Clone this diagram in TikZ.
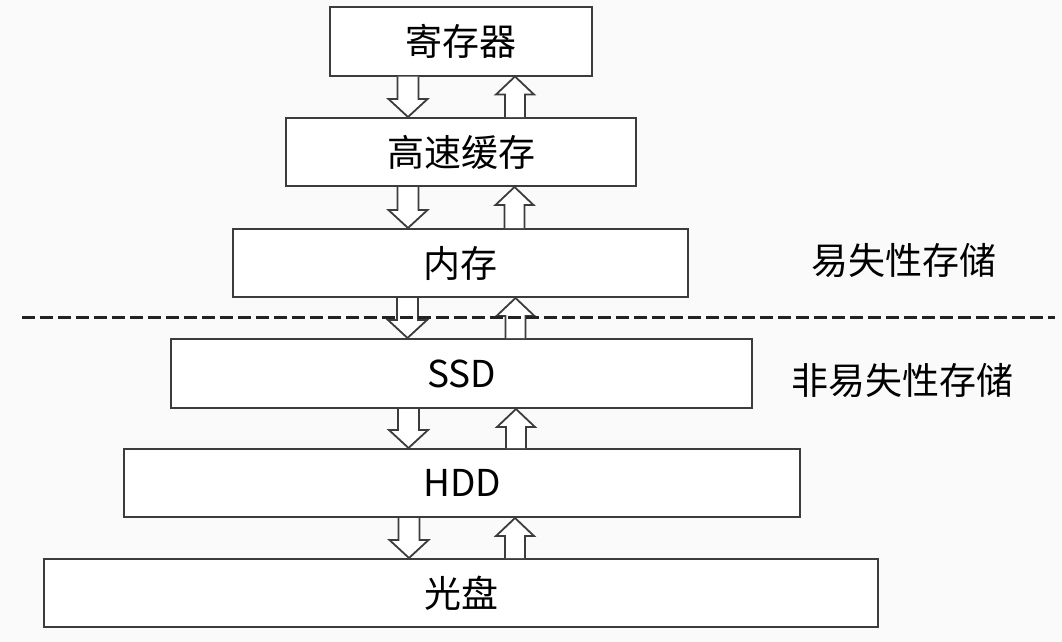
\documentclass[tikz,border=0pt]{standalone}
\usepackage{fontspec}
\usepackage{tikz}
\usetikzlibrary{calc,positioning}
\setmainfont{Noto Sans CJK SC}
\definecolor{memBg}{RGB}{250,250,250}
\definecolor{memLine}{RGB}{60,60,60}
\definecolor{memDash}{RGB}{34,34,34}

% hollow block arrows between two levels
\newcommand{\downflow}[2]{%
  \path ($(#1.south)+(-53,0)$) coordinate (s) (s |- #2.north) coordinate (e);
  \draw[flowarrow] ($(s)+(-10.5,0)$) -- ($(e)+(-10.5,-18)$) -- ($(e)+(-19.5,-18)$) -- (e)
    -- ($(e)+(19.5,-18)$) -- ($(e)+(10.5,-18)$) -- ($(s)+(10.5,0)$);}
\newcommand{\upflow}[2]{%
  \path ($(#2.north)+(54,0)$) coordinate (s) (s |- #1.south) coordinate (e);
  \draw[flowarrow] ($(s)+(-10,0)$) -- ($(e)+(-10,18)$) -- ($(e)+(-19,18)$) -- (e)
    -- ($(e)+(19,18)$) -- ($(e)+(10,18)$) -- ($(s)+(10,0)$);}

\begin{document}
\begin{tikzpicture}[x=1pt,y=-1pt,
    level/.style={draw=memLine, line width=2pt, fill=white, inner sep=0pt,
      minimum height=68pt, font=\fontsize{37}{40}\selectfont},
    side/.style={font=\fontsize{37}{40}\selectfont},
    flowarrow/.style={draw=memLine, line width=1.8pt, fill=white, line join=miter}]
    \fill[memBg] (0,0) rectangle (1062,642);
    \useasboundingbox (0,0) rectangle (1062,642);

    % storage levels
    \node[level, minimum width=262pt] (reg) at (461,41.5) {寄存器};
    \node[level, minimum width=350pt] (cache) at (461,152) {高速缓存};
    \node[level, minimum width=455pt] (mem) at (460.5,263) {内存};
    \node[level, minimum width=581pt, minimum height=69pt] (ssd) at (461.5,373.5) {SSD};
    \node[level, minimum width=676pt] (hdd) at (462,483) {HDD};
    \node[level, minimum width=834pt] (disc) at (461,593) {光盘};

    % arrows
    \downflow{reg}{cache}   \upflow{reg}{cache}
    \downflow{cache}{mem}   \upflow{cache}{mem}
    \downflow{mem}{ssd}     \upflow{mem}{ssd}
    \downflow{ssd}{hdd}     \upflow{ssd}{hdd}
    \downflow{hdd}{disc}    \upflow{hdd}{disc}

    % volatile / non-volatile split
    \coordinate (cutL) at (22,317);
    \coordinate (cutR) at (1055,317);
    \draw[memDash, line width=3pt, dash pattern=on 13pt off 5pt] (cutL) -- (cutR);
    \node[side] (vol) at (903.5,260) {易失性存储};
    \node[side] (nonvol) at (902.5,380) {非易失性存储};
\end{tikzpicture}
\end{document}
